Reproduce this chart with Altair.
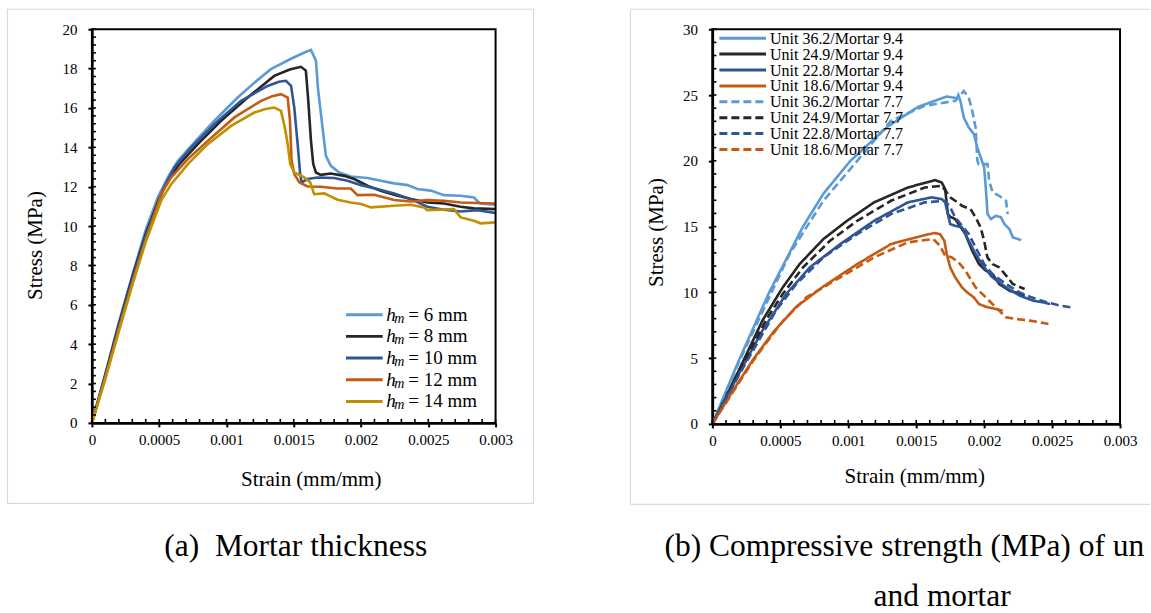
import altair as alt
import pandas as pd

FONT = "Liberation Serif"

# ---------------- Panel (a): mortar thickness ----------------
a_names = ["6 mm", "8 mm", "10 mm", "12 mm", "14 mm"]
a_colors = ["#5B9BD5", "#262626", "#2F5597", "#C55A11", "#BF9000"]

a6_x = [0, 0.0001, 0.0002, 0.0003, 0.0004, 0.00049, 0.000564, 0.000638, 0.000762, 0.00091, 0.001083, 0.00121,
        0.00133, 0.00148, 0.00158, 0.001628, 0.001665, 0.00168, 0.001714, 0.001739, 0.001776, 0.001838,
        0.001924, 0.002048, 0.002147, 0.002246, 0.002345, 0.002419, 0.002518, 0.002617, 0.00274, 0.002839,
        0.002884, 0.003]
a6_y = [0, 2.5, 5.1, 7.5, 9.8, 11.46, 12.47, 13.3, 14.25, 15.35, 16.53, 17.3,
        17.97, 18.5, 18.82, 18.95, 18.4, 17.0, 15.0, 13.57, 13.06, 12.72,
        12.52, 12.44, 12.3, 12.17, 12.08, 11.88, 11.8, 11.57, 11.54, 11.45,
        11.15, 11.08]

a8_x = [0, 0.0001, 0.0002, 0.0003, 0.0004, 0.0005, 0.000564, 0.00065, 0.000787, 0.00096, 0.001158, 0.001355,
        0.00147, 0.001553, 0.00159, 0.001608, 0.001628, 0.001645, 0.001665, 0.0017, 0.001776, 0.001875,
        0.001949, 0.002048, 0.002147, 0.002246, 0.00237, 0.002493, 0.002617, 0.00274, 0.002839, 0.003]
a8_y = [0, 2.45, 5.0, 7.4, 9.6, 11.4, 12.3, 13.15, 14.16, 15.35, 16.53, 17.63,
        17.95, 18.09, 17.9, 16.36, 14.33, 13.15, 12.72, 12.6, 12.67, 12.55,
        12.39, 12.05, 11.79, 11.59, 11.37, 11.2, 11.15, 10.98, 10.9, 10.86]

a10_x = [0, 0.0001, 0.0002, 0.0003, 0.0004, 0.0005, 0.000539, 0.000613, 0.000737, 0.00091, 0.001108, 0.001306,
         0.00139, 0.001442, 0.00148, 0.001504, 0.001529, 0.001548, 0.001558, 0.001603, 0.001677, 0.0018,
         0.0019, 0.002, 0.002122, 0.002246, 0.00237, 0.002493, 0.002617, 0.00274, 0.002863, 0.003]
a10_y = [0, 2.4, 4.9, 7.3, 9.5, 11.3, 12.0, 12.98, 13.99, 15.18, 16.36, 17.12,
         17.33, 17.38, 17.12, 16.02, 14.16, 12.64, 12.22, 12.39, 12.47, 12.44,
         12.3, 12.08, 11.88, 11.66, 11.37, 10.98, 10.83, 10.74, 10.81, 10.66]

a12_x = [0, 0.0001, 0.0002, 0.0003, 0.0004, 0.000514, 0.000589, 0.000713, 0.000861, 0.001059, 0.001258,
         0.00134, 0.001405, 0.001455, 0.001472, 0.001484, 0.001504, 0.001541, 0.001603, 0.0017, 0.001825,
         0.001924, 0.001974, 0.002097, 0.002246, 0.00237, 0.002493, 0.002617, 0.00274, 0.003]
a12_y = [0, 2.3, 4.75, 7.1, 9.3, 11.62, 12.47, 13.4, 14.33, 15.52, 16.36,
         16.6, 16.7, 16.53, 15.35, 13.32, 12.64, 12.22, 12.01, 12.0, 11.91,
         11.91, 11.57, 11.59, 11.32, 11.25, 11.32, 11.29, 11.2, 11.15]

a14_x = [0, 0.0001, 0.0002, 0.0003, 0.0004, 0.000514, 0.000589, 0.000713, 0.000861, 0.001034, 0.001207,
         0.00129, 0.001355, 0.001405, 0.001434, 0.001455, 0.001474, 0.001504, 0.001578, 0.001622, 0.001652,
         0.001726, 0.001825, 0.001924, 0.002, 0.002073, 0.002246, 0.00237, 0.002468, 0.002493, 0.002691,
         0.00274, 0.002839, 0.002888, 0.003]
a14_y = [0, 2.25, 4.65, 7.0, 9.2, 11.29, 12.13, 13.15, 14.16, 15.09, 15.77,
         15.95, 16.02, 15.85, 15.0, 14.16, 13.15, 12.72, 12.47, 12.22, 11.62,
         11.66, 11.34, 11.2, 11.12, 10.95, 11.03, 11.08, 10.95, 10.81, 10.86,
         10.44, 10.27, 10.14, 10.19]

a_series = [(a_names[0], a6_x, a6_y), (a_names[1], a8_x, a8_y), (a_names[2], a10_x, a10_y),
            (a_names[3], a12_x, a12_y), (a_names[4], a14_x, a14_y)]

# ---------------- Panel (b): unit / mortar strength ----------------
b_names = ["Unit 36.2/Mortar 9.4", "Unit 24.9/Mortar 9.4", "Unit 22.8/Mortar 9.4", "Unit 18.6/Mortar 9.4",
           "Unit 36.2/Mortar 7.7", "Unit 24.9/Mortar 7.7", "Unit 22.8/Mortar 7.7", "Unit 18.6/Mortar 7.7"]
b_colors = ["#5B9BD5", "#262626", "#2F5597", "#C55A11", "#5B9BD5", "#262626", "#2F5597", "#C55A11"]
b_dashes = [[1, 0], [1, 0], [1, 0], [1, 0], [8, 4], [8, 4], [8, 4], [8, 4]]

b1_x = [0, 0.0002, 0.000418, 0.000543, 0.000667, 0.000817, 0.001016, 0.00129, 0.001514, 0.001725, 0.001775,
        0.0018, 0.00181, 0.001825, 0.00185, 0.001887, 0.001925, 0.00195, 0.001975, 0.002, 0.002012, 0.002025,
        0.00205, 0.002086, 0.002124, 0.002149, 0.002186, 0.002211, 0.002273]
b1_y = [0, 4.95, 10.0, 12.5, 15.0, 17.5, 20.0, 22.6, 24.1, 24.89, 24.8,
        24.76, 25.0, 24.56, 23.29, 22.53, 22.03, 21.0, 20.25, 19.5, 17.97, 15.95,
        15.57, 15.82, 15.7, 15.19, 14.81, 14.18, 13.97]

b2_x = [0, 0.000194, 0.000368, 0.000518, 0.000642, 0.000817, 0.000991, 0.00119, 0.001439, 0.001638, 0.001688,
        0.001713, 0.001733, 0.00175, 0.001787, 0.001862, 0.001912, 0.001962, 0.002012, 0.002061, 0.002111,
        0.002186, 0.002273, 0.002298]
b2_y = [0, 4.05, 7.85, 10.38, 12.15, 14.05, 15.44, 16.84, 17.97, 18.53, 18.35,
        17.85, 15.95, 15.75, 15.57, 14.43, 13.16, 12.15, 11.65, 11.39, 10.63,
        10.13, 9.87, 9.75]

b3_x = [0, 0.0002, 0.000368, 0.000543, 0.000717, 0.000941, 0.00119, 0.001439, 0.001613, 0.001688, 0.001713,
        0.001733, 0.00175, 0.001787, 0.001837, 0.001887, 0.001937, 0.002, 0.002061, 0.002161, 0.002261,
        0.00236, 0.002435, 0.002485]
b3_y = [0, 3.9, 7.09, 9.87, 11.9, 13.67, 15.44, 16.84, 17.22, 17.09, 16.84,
        15.95, 15.19, 15.06, 14.94, 13.92, 12.91, 11.9, 11.14, 10.38, 9.75,
        9.37, 9.24, 9.11]

b4_x = [0, 0.00015, 0.0003, 0.00045, 0.000617, 0.000817, 0.001066, 0.001314, 0.001563, 0.001633, 0.001675,
        0.001707, 0.001725, 0.00175, 0.001787, 0.001837, 0.001875, 0.001924, 0.001962, 0.002012, 0.002086,
        0.002136]
b4_y = [0, 2.5, 4.9, 7.0, 8.9, 10.45, 12.15, 13.67, 14.35, 14.51, 14.43,
        13.92, 12.91, 11.9, 11.14, 10.38, 10.0, 9.62, 9.11, 8.91, 8.73,
        8.61]

b5_x = [0, 0.0002, 0.000418, 0.000568, 0.000692, 0.000817, 0.001066, 0.001314, 0.001563, 0.001788, 0.00185,
        0.001887, 0.001912, 0.001937, 0.00195, 0.00196, 0.002025, 0.002037, 0.002062, 0.002111, 0.002161,
        0.002173]
b5_y = [0, 4.8, 9.62, 12.9, 14.94, 16.96, 20.0, 23.04, 24.18, 24.56, 25.3,
        24.81, 23.8, 22.53, 20.0, 19.75, 19.75, 18.48, 17.59, 17.34, 16.96,
        15.95]

b6_x = [0, 0.0002, 0.0004, 0.000518, 0.000667, 0.000866, 0.001066, 0.001314, 0.001563, 0.001688, 0.001725,
        0.00175, 0.001787, 0.001837, 0.0019, 0.001937, 0.001974, 0.002, 0.002024, 0.002061, 0.002111,
        0.002173, 0.002211, 0.002298]
b6_y = [0, 4.0, 8.0, 9.87, 11.9, 13.92, 15.44, 16.96, 17.97, 18.1, 17.6,
        17.22, 16.96, 16.58, 16.33, 15.7, 14.94, 13.92, 12.66, 12.15, 11.9,
        11.14, 10.63, 10.25]

b7_x = [0, 0.0002, 0.000468, 0.000617, 0.000817, 0.001066, 0.001314, 0.001563, 0.001713, 0.00175, 0.001787,
        0.001887, 0.001937, 0.002, 0.002061, 0.002161, 0.002261, 0.002348, 0.00246, 0.00256, 0.002634]
b7_y = [0, 3.8, 8.61, 10.63, 12.66, 14.43, 15.95, 16.84, 16.96, 16.46, 15.7,
        14.43, 13.42, 12.15, 11.39, 10.63, 10.0, 9.62, 9.24, 8.99, 8.86]

b8_x = [0, 0.00015, 0.0003, 0.00045, 0.000518, 0.000692, 0.000941, 0.00119, 0.001439, 0.001626, 0.001675,
        0.001713, 0.001762, 0.001812, 0.001862, 0.001937, 0.002012, 0.002086, 0.002161, 0.002236, 0.002336,
        0.002411, 0.002473]
b8_y = [0, 2.4, 4.8, 6.9, 7.8, 9.62, 11.14, 12.66, 13.8, 14.05, 13.54,
        12.78, 12.66, 12.28, 11.65, 10.38, 9.62, 8.86, 8.1, 7.97, 7.85,
        7.72, 7.59]

b_series = [(b_names[0], b1_x, b1_y), (b_names[1], b2_x, b2_y), (b_names[2], b3_x, b3_y),
            (b_names[3], b4_x, b4_y), (b_names[4], b5_x, b5_y), (b_names[5], b6_x, b6_y),
            (b_names[6], b7_x, b7_y), (b_names[7], b8_x, b8_y)]

x_major = [0, 0.0005, 0.001, 0.0015, 0.002, 0.0025, 0.003]
x_minor = [round(i * 0.0001, 5) for i in range(31)]
a_y_major = list(range(0, 21, 2))
a_y_minor = [round(i * 0.4, 2) for i in range(51)]
b_y_major = list(range(0, 31, 5))
b_y_minor = list(range(0, 31, 1))


def long_df(series):
    rows = []
    for name, xs, ys in series:
        for i, (xv, yv) in enumerate(zip(xs, ys)):
            rows.append({"series": name, "strain": xv, "stress": yv, "i": i})
    return pd.DataFrame(rows)


def one(text):
    return pd.DataFrame({"t": [text]})


def text_layer(text, x, y, size, align="left", style="normal", limit=None):
    kw = dict(font=FONT, fontSize=size, color="black", align=align, baseline="alphabetic", fontStyle=style)
    if limit is not None:
        kw.update(limit=limit, ellipsis="\u200b")
    return alt.Chart(one(text)).mark_text(**kw).encode(text="t:N", x=alt.value(x), y=alt.value(y))


def rule_layer(x1, x2, y1, y2, color, dash, width):
    return alt.Chart(one("")).mark_rule(strokeWidth=width, color=color, strokeDash=dash).encode(
        x=alt.value(x1), x2=alt.value(x2), y=alt.value(y1), y2=alt.value(y2))


def panel(series, names, colors, dashes, ymax, y_major, y_minor, W, H, ytitle_y, xtitle_x, xtitle_y,
          box_layers, captions, legend_layers):
    df = long_df(series)
    xs = alt.Scale(domain=[0, 0.003], nice=False, zero=True)
    ys = alt.Scale(domain=[0, ymax], nice=False, zero=True)

    main_x = alt.Axis(values=x_major, format="~g", ticks=True, tickSize=4, tickWidth=2, tickColor="black",
                      domain=True, domainColor="black", domainWidth=2.5, labelFont=FONT, labelFontSize=15,
                      labelColor="black", labelPadding=6, labelFlush=False, labelOverlap=False, grid=False,
                      title="Strain (mm/mm)", titleFont=FONT, titleFontSize=21, titleFontWeight="normal",
                      titleColor="black", titleX=xtitle_x, titleY=xtitle_y, titleAlign="center",
                      titleBaseline="middle")
    main_y = alt.Axis(values=y_major, ticks=True, tickSize=4, tickWidth=2, tickColor="black",
                      domain=True, domainColor="black", domainWidth=2.5, labelFont=FONT, labelFontSize=15,
                      labelColor="black", labelPadding=11, labelFlush=False, labelOverlap=False, grid=False,
                      title="Stress (MPa)", titleFont=FONT, titleFontSize=21, titleFontWeight="normal",
                      titleColor="black", titleX=-56, titleY=ytitle_y, titleAlign="center",
                      titleBaseline="middle", titleAngle=270)

    enc = dict(
        x=alt.X("strain:Q", scale=xs, axis=main_x),
        y=alt.Y("stress:Q", scale=ys, axis=main_y),
        color=alt.Color("series:N", scale=alt.Scale(domain=names, range=colors), legend=None),
        order=alt.Order("i:Q"),
    )
    if dashes is not None:
        enc["strokeDash"] = alt.StrokeDash("series:N", scale=alt.Scale(domain=names, range=dashes),
                                           legend=None)
    lines = alt.Chart(df).mark_line(strokeWidth=2.6).encode(**enc)

    # plot frame (top / right edges)
    frame = alt.Chart(one("")).mark_rect(fillOpacity=0, stroke="black", strokeWidth=2).encode(
        x=alt.value(0), x2=alt.value(W), y=alt.value(0), y2=alt.value(H))

    # inward minor ticks (same axis definitions so the shared axes merge cleanly)
    yticks = alt.Chart(pd.DataFrame({"stress": y_minor})).mark_rule(color="black", strokeWidth=1.6).encode(
        y=alt.Y("stress:Q", scale=ys, axis=main_y), x=alt.value(0), x2=alt.value(4))
    xticks = alt.Chart(pd.DataFrame({"strain": x_minor})).mark_rule(color="black", strokeWidth=1.6).encode(
        x=alt.X("strain:Q", scale=xs, axis=main_x), y=alt.value(H), y2=alt.value(H - 4))

    layers = box_layers + [lines, frame, yticks, xticks] + legend_layers
    for text, cx, cy, align, lim in captions:
        layers.append(text_layer(text, cx, cy, 31.5, align=align, limit=lim))
    return alt.layer(*layers).properties(width=W, height=H)


GRAY = "#D9D9D9"

# outer light-gray boxes
box_a = [alt.Chart(one("")).mark_rect(fillOpacity=0, stroke=GRAY, strokeWidth=1.2).encode(
    x=alt.value(-84.5), x2=alt.value(442), y=alt.value(-20), y2=alt.value(474.5))]
box_b = [rule_layer(-82, 438, -20, -20, GRAY, [1, 0], 1.2),
         rule_layer(-82, 438, 475.5, 475.5, GRAY, [1, 0], 1.2),
         rule_layer(-82, -82, -20, 475.5, GRAY, [1, 0], 1.2)]

# manual legend (a): symbol + italic h + subscript m + rest of label
leg_a = []
for k, (nm, col) in enumerate(zip(a_names, a_colors)):
    base = 291.7 + 21.7 * k
    leg_a.append(rule_layer(254.3, 291.0, base - 6, base - 6, col, [1, 0], 3))
    leg_a.append(text_layer("h", 294.5, base, 19, style="italic"))
    leg_a.append(text_layer("m", 302.6, base + 2, 14, style="italic"))
    leg_a.append(text_layer("= " + nm, 316.6, base, 19))

# manual legend (b)
leg_b = []
for k, (nm, col, ds) in enumerate(zip(b_names, b_colors, b_dashes)):
    cy = 9 + 15.9 * k
    leg_b.append(rule_layer(7, 53.7, cy, cy, col, ds, 3))
    leg_b.append(text_layer(nm, 57.7, cy + 5.5, 16))

pa = panel(a_series, a_names, a_colors, None, 20, a_y_major, a_y_minor, 404, 394,
           216, 219, 57, box_a,
           [("(a)\u2002Mortar thickness", 204, 527, "center", None)], leg_a)
pb = panel(b_series, b_names, b_colors, b_dashes, 30, b_y_major, b_y_minor, 408, 395,
           203, 202, 53, box_b,
           [("(b) Compressive strength (MPa) of unit", -48, 527, "left", 486),
            ("and mortar", 230, 577, "center", None)], leg_b)

chart = alt.hconcat(pa, pb, spacing=217, bounds="flush").resolve_scale(
    color="independent", strokeDash="independent"
).properties(
    padding={"left": 6, "top": 8, "right": 0, "bottom": 0}
).configure(
    font=FONT, background="white",
    view=alt.ViewConfig(stroke=None),
)

chart.save("out.html", embed_options={"renderer": "svg", "actions": False})
